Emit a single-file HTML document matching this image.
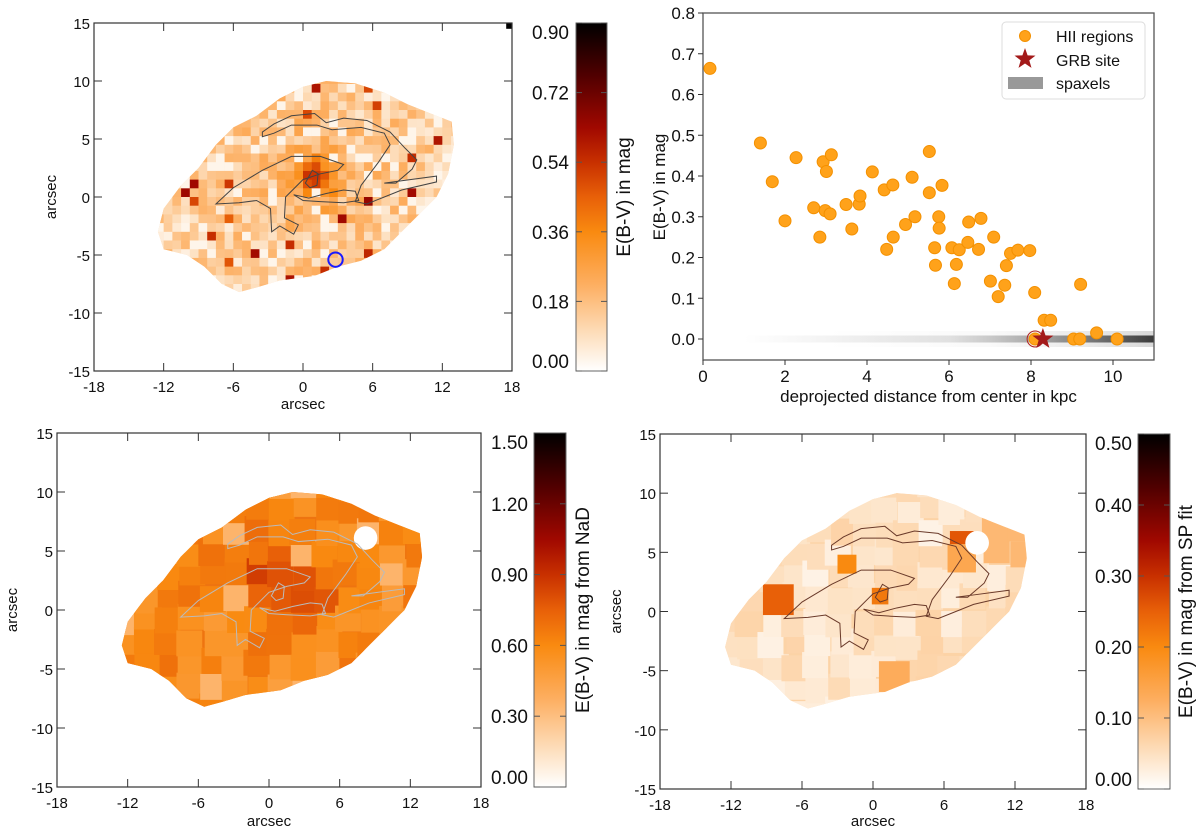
<!DOCTYPE html>
<html><head><meta charset="utf-8"><style>
html,body{margin:0;padding:0;background:#fff;}
svg{display:block;font-family:"Liberation Sans",Arial,sans-serif;}
</style></head><body>
<svg id="fig" width="1200" height="833" viewBox="0 0 1200 833" xmlns="http://www.w3.org/2000/svg">
<defs>
<linearGradient id="cm1" x1="0" y1="1" x2="0" y2="0">
<stop offset="0" stop-color="#ffffff"/><stop offset="0.1" stop-color="#fde0c0"/><stop offset="0.25" stop-color="#fdae60"/><stop offset="0.4" stop-color="#f98a10"/><stop offset="0.5" stop-color="#e86008"/><stop offset="0.6" stop-color="#c83000"/><stop offset="0.7" stop-color="#a00800"/><stop offset="0.85" stop-color="#500000"/><stop offset="1" stop-color="#000000"/>
</linearGradient>
<linearGradient id="spx" x1="0" y1="0" x2="1" y2="0">
<stop offset="0" stop-color="#666" stop-opacity="0"/><stop offset="0.5" stop-color="#777" stop-opacity="0.2"/><stop offset="0.75" stop-color="#555" stop-opacity="0.55"/><stop offset="1" stop-color="#333" stop-opacity="0.95"/>
</linearGradient>
</defs>
</svg>
<script>
// ---- scatter data (HII regions) ----
const hiiDist = [0.17,1.40,1.69,2.0,2.27,2.70,2.85,2.93,2.98,3.01,3.10,3.13,3.49,3.63,3.81,3.83,4.13,4.42,4.48,4.63,4.64,4.94,5.10,5.17,5.52,5.52,5.65,5.67,5.75,5.76,5.83,6.07,6.13,6.18,6.25,6.46,6.48,6.72,6.78,7.01,7.09,7.20,7.36,7.40,7.50,7.68,7.97,8.09,8.32,8.48,9.21,9.60,9.04,9.19,10.10,8.10];
const hiiEbv  = [0.664,0.481,0.386,0.29,0.445,0.322,0.25,0.435,0.315,0.411,0.307,0.452,0.33,0.27,0.331,0.351,0.41,0.366,0.22,0.378,0.25,0.281,0.397,0.30,0.46,0.359,0.224,0.181,0.30,0.272,0.377,0.224,0.136,0.183,0.219,0.237,0.287,0.22,0.296,0.142,0.25,0.104,0.132,0.18,0.21,0.218,0.217,0.114,0.046,0.046,0.134,0.015,0.0,0.0,0.0,0.0];
const grbDist = [8.29];
const grbEbv = [0.0];
const scXTicks = [0,2,4,6,8,10];
const scYTicks = [0.0,0.1,0.2,0.3,0.4,0.5,0.6,0.7,0.8];
const mapXTicks = [-18,-12,-6,0,6,12,18];
const mapYTicks = [-15,-10,-5,0,5,10,15];
const cb1Ticks = ["0.00","0.18","0.36","0.54","0.72","0.90"];
const cb2Ticks = ["0.00","0.30","0.60","0.90","1.20","1.50"];
const cb3Ticks = ["0.00","0.10","0.20","0.30","0.40","0.50"];

const NS='http://www.w3.org/2000/svg';
const svg=document.getElementById('fig');
function mk(tag,attrs,parent){const e=document.createElementNS(NS,tag);for(const k in attrs)e.setAttribute(k,attrs[k]);(parent||svg).appendChild(e);return e;}
function txt(s,attrs,parent){const e=mk('text',attrs,parent);e.textContent=s;return e;}
function hsh(i,j,k){let x=Math.sin(i*127.1+j*311.7+k*74.7)*43758.5453;return x-Math.floor(x);}
const stops=[[0,[255,255,255]],[0.1,[253,224,192]],[0.25,[253,174,96]],[0.4,[249,138,16]],[0.5,[232,96,8]],[0.6,[200,48,0]],[0.7,[160,8,0]],[0.85,[80,0,0]],[1,[0,0,0]]];
function cmap(t){t=Math.max(0,Math.min(1,t));for(let i=1;i<stops.length;i++){if(t<=stops[i][0]){const a=stops[i-1],b=stops[i];const f=(t-a[0])/(b[0]-a[0]);const c=a[1].map((v,k)=>Math.round(v+(b[1][k]-v)*f));return 'rgb('+c.join(',')+')';}}return '#000';}

const outline=[[-12.5,-3],[-12,-1],[-10.5,1],[-9,2.5],[-7.5,4.5],[-6,6],[-4,7],[-2,8.5],[0,9.5],[2,10],[4.5,9.8],[7,9],[9,8],[11,7.2],[12.8,6.5],[13,4.5],[12.5,2],[11.5,0],[10,-1.5],[8.5,-3],[7,-4.5],[5,-5.5],[3,-6],[1,-6.8],[-2,-7.2],[-4,-7.8],[-5.5,-8.2],[-7,-7.5],[-8.5,-6],[-10,-5],[-12,-4.5]];
const contA=[[-3.5,5.6],[-2.5,6.3],[-1,7.0],[1,7.2],[2,6.4],[3.5,6.8],[5.5,6.6],[7.5,5.6],[8.8,4.2],[9.8,3.2],[9.4,2.4],[8,1.2],[7,1.2],[8.5,1.4],[11.5,1.8],[11.5,1.3],[8.5,0.6],[6.5,-0.2],[5.5,-0.6],[4.5,-0.4],[5,1],[6.5,3],[7.5,4.5],[7,5.5],[5,6],[2.5,5.8],[1.2,6.2],[-1,6.2],[-2.5,5.5],[-3.5,5.2]];
const contB=[[-7.5,-0.6],[-6,0.8],[-3.5,2.3],[-1,3.5],[1.5,3.5],[3.5,2.8],[3,2.3],[1.5,2],[0,1.5],[-1.5,0],[-1.6,-1.8],[-0.4,-2.4],[-0.8,-3.2],[-2,-2.5],[-2.7,-3],[-2.8,-1],[-4,-0.3],[-5.5,-0.5]];
const contC=[[-0.8,0.2],[0.5,-0.1],[2,0.3],[3.5,0.6],[4.5,0.5],[4.8,-0.3],[3.5,-0.5],[1.5,-0.4],[0,-0.3]];
const contD=[[0.2,1.2],[0.8,2.3],[1.3,2],[1.2,1],[0.6,0.8]];

function pts(a){return a.map(p=>p[0]+','+p[1]).join(' ');}

function drawMap(P,kind,idx){
  const sx=(P.x1-P.x0)/36, sy=(P.y1-P.y0)/30;
  const cp=mk('clipPath',{id:'gal'+idx},svg.querySelector('defs'));
  mk('polygon',{points:pts(outline)},cp);
  const g=mk('g',{transform:`translate(${P.x0+18*sx},${P.y0+15*sy}) scale(${sx},${-sy})`});
  
  
  const gi=mk('g',{'clip-path':'url(#gal'+idx+')'},g);
  if(kind==='balmer'){
    mk('polygon',{points:pts(outline),fill:'#fcc896'},gi);
    const st=0.75;
    for(let i=-18;i<=18;i++)for(let j=-12;j<=14;j++){
      const a=i*st,b=j*st;const r2=(a-0.8)*(a-0.8)+(b-1.2)*(b-1.2);
      let v=0.13+0.35*Math.exp(-r2/3)+0.07*Math.exp(-r2/40)+(hsh(i,j,1)-0.5)*0.18;
      if(hsh(i,j,2)>0.965)v=0.45+hsh(i,j,3)*0.2;
      else if(hsh(i,j,11)>0.88)v=0.03;
      mk('rect',{x:a,y:b,width:st+0.02,height:st+0.02,fill:cmap(v/0.9)},gi);
    }
  } else if(kind==='nad'){
    mk('polygon',{points:pts(outline),fill:'#ee7410'},gi);
    const st=1.9;
    for(let i=-8;i<=8;i++)for(let j=-6;j<=7;j++){
      const a=i*st+(hsh(i,j,4)-0.5)*0.6,b=j*st+(hsh(i,j,5)-0.5)*0.6;const r2=(a-0.5)*(a-0.5)+(b-1)*(b-1);
      let v=0.58+0.32*Math.exp(-r2/12)+(hsh(i,j,6)-0.5)*0.22;
      if(hsh(i,j,7)>0.93)v=0.35;
      mk('rect',{x:a,y:b,width:st+0.3,height:st+0.3,fill:cmap(v/1.5)},gi);
    }
    mk('circle',{cx:8.2,cy:6.1,r:1.0,fill:'#fff'},gi);
  } else {
    mk('polygon',{points:pts(outline),fill:'#fcd3a6'},gi);
    const st=1.9;
    for(let i=-8;i<=8;i++)for(let j=-6;j<=7;j++){
      const a=i*st+(hsh(i,j,8)-0.5)*0.6,b=j*st+(hsh(i,j,9)-0.5)*0.6;
      let v=0.045+(hsh(i,j,10)-0.5)*0.05;
      if(a>8&&b>2)v=0.11;
      mk('rect',{x:a,y:b,width:st+0.3,height:st+0.3,fill:cmap(v/0.5)},gi);
    }
    const hot=[[-8,1,1.3,0.25],[7.5,5.8,1.0,0.26],[-2.2,4,0.8,0.2],[0.6,1.3,0.7,0.22],[1.8,-5.5,1.3,0.13],[7.5,4.5,1.2,0.14]];
    hot.forEach(h=>mk('rect',{x:h[0]-h[2],y:h[1]-h[2],width:2*h[2],height:2*h[2],fill:cmap(h[3]/0.5)},gi));
    mk('circle',{cx:8.8,cy:5.8,r:1.0,fill:'#fff'},gi);
  }
  const cc=kind==='nad'?'#bbb':(kind==='sp'?'#6a3a2a':'#444');
  [contA,contB,contC,contD].forEach((c,k)=>{
    const pl=mk('polygon',{points:pts(c),fill:'none',stroke:cc,'stroke-width':1,'vector-effect':'non-scaling-stroke'},g);
    
    
  });
  if(kind==='balmer'){
    const bc=mk('circle',{cx:2.8,cy:-5.4,r:0.62,fill:'none',stroke:'#1a1aff','stroke-width':2,'vector-effect':'non-scaling-stroke'},g);
    
    
    mk('rect',{x:17.5,y:14.5,width:0.5,height:0.5,fill:'#000'},g);
  }
  const fr=mk('rect',{x:P.x0,y:P.y0,width:P.x1-P.x0,height:P.y1-P.y0,fill:'none',stroke:'#333','stroke-width':1.2});
  
  
  mapXTicks.forEach(t=>{
    const X=P.x0+(t+18)*sx;
    mk('line',{x1:X,y1:P.y1,x2:X,y2:P.y1-8,stroke:'#333'});
    mk('line',{x1:X,y1:P.y0,x2:X,y2:P.y0+8,stroke:'#333'});
    const l=txt(String(t),{x:X,y:P.y1+21,'text-anchor':'middle','font-size':15,fill:'#111'});
    
    
  });
  mapYTicks.forEach(t=>{
    const Y=P.y0+(15-t)*sy;
    mk('line',{x1:P.x0,y1:Y,x2:P.x0+8,y2:Y,stroke:'#333'});
    mk('line',{x1:P.x1,y1:Y,x2:P.x1-8,y2:Y,stroke:'#333'});
    const l=txt(String(t),{x:P.x0-4,y:Y+6,'text-anchor':'end','font-size':15,fill:'#111'});
    
    
  });
  const xl=txt('arcsec',{x:(P.x0+P.x1)/2,y:P.xlY,'text-anchor':'middle','font-size':15,fill:'#111'});
  
  
  const yl=txt('arcsec',{x:0,y:0,transform:`translate(${P.ylX},${(P.y0+P.y1)/2}) rotate(-90)`,'text-anchor':'middle','font-size':15,fill:'#111'});
  
  
  const C=P.cb;
  const cbr=mk('rect',{x:C.x0,y:P.y0,width:C.x1-C.x0,height:P.y1-P.y0,fill:'url(#cm1)',stroke:'#666','stroke-width':1});
  
  
  C.ticks.forEach((s,k)=>{
    const Y=P.y1-(P.y1-P.y0)*k/(C.ticks.length-1);
    mk('line',{x1:C.x0,y1:Y,x2:C.x0+6,y2:Y,stroke:'#555'});
    mk('line',{x1:C.x1,y1:Y,x2:C.x1-6,y2:Y,stroke:'#555'});
    const ty=k===0?Y-3:(k===C.ticks.length-1?Y+16:Y+7);
    const l=txt(s,{x:C.lx,y:ty,'text-anchor':'end','font-size':19,fill:'#111'});
    
    
  });
  const cl=txt(C.label,{x:0,y:0,transform:`translate(${C.tx},${(P.y0+P.y1)/2}) rotate(-90)`,'text-anchor':'middle','font-size':19,fill:'#111'});
  
  
}

drawMap({x0:94,x1:512,y0:23,y1:371,xlY:409,ylX:56,cb:{x0:576,x1:607,lx:569,tx:630,ticks:cb1Ticks,label:'E(B-V) in mag'}},'balmer',1);
drawMap({x0:57,x1:481,y0:433,y1:787,xlY:826,ylX:17,cb:{x0:534,x1:566,lx:528,tx:589,ticks:cb2Ticks,label:'E(B-V) in mag from NaD'}},'nad',2);
drawMap({x0:660,x1:1086,y0:434,y1:789,xlY:826,ylX:621,cb:{x0:1138,x1:1170,lx:1132,tx:1192,ticks:cb3Ticks,label:'E(B-V) in mag from SP fit'}},'sp',3);

// ---- scatter panel ----
const S={x0:703,x1:1154,y0:13,y1:360};
const xS=d=>S.x0+d*(S.x1-S.x0)/11;
const yS=v=>339-v*(339-13)/0.8;
const band=mk('rect',{x:xS(1),y:yS(0)-3.5,width:xS(11)-xS(1),height:7,fill:'url(#spx)'});


mk('rect',{x:xS(3),y:yS(0)-8,width:xS(11)-xS(3),height:16,fill:'url(#spx)',opacity:0.2});
const sfr=mk('rect',{x:S.x0,y:S.y0,width:S.x1-S.x0,height:S.y1-S.y0,fill:'none',stroke:'#555','stroke-width':1.3});


scXTicks.forEach(t=>{
  const X=xS(t);
  mk('line',{x1:X,y1:S.y1,x2:X,y2:S.y1+5,stroke:'#333'});
  const l=txt(String(t),{x:X,y:S.y1+22,'text-anchor':'middle','font-size':17,fill:'#111'});
  
  
});
scYTicks.forEach(t=>{
  const Y=yS(t);
  mk('line',{x1:S.x0,y1:Y,x2:S.x0-5,y2:Y,stroke:'#333'});
  const l=txt(t.toFixed(1),{x:S.x0-8,y:Y+6,'text-anchor':'end','font-size':17,fill:'#111'});
  
  
});
const sxl=txt('deprojected distance from center in kpc',{x:(S.x0+S.x1)/2,y:402,'text-anchor':'middle','font-size':17,fill:'#111'});


const syl=txt('E(B-V) in mag',{x:0,y:0,transform:`translate(665,187) rotate(-90)`,'text-anchor':'middle','font-size':17,fill:'#111'});


hiiDist.forEach((d,i)=>{
  const c=mk('circle',{cx:xS(d),cy:yS(hiiEbv[i]),r:6,fill:'#ffa21a',stroke:'#f39000','stroke-width':1});
  
  
});
mk('circle',{cx:xS(8.10),cy:yS(0),r:8,fill:'none',stroke:'#b02020','stroke-width':1});
function star(cx,cy,R,r){let p=[];for(let k=0;k<10;k++){const a=-Math.PI/2+k*Math.PI/5;const rr=k%2?r:R;p.push((cx+rr*Math.cos(a)).toFixed(1)+','+(cy+rr*Math.sin(a)).toFixed(1));}return p.join(' ');}
grbDist.forEach((d,i)=>{
  const s=mk('polygon',{points:star(xS(d),yS(grbEbv[i]),11,4.5),fill:'#a31a1a'});
  
  
});
const lg=mk('g',{});


mk('rect',{x:1002,y:22,width:143,height:77,rx:4,fill:'#fff',stroke:'#ddd'},lg);
mk('circle',{cx:1025,cy:36,r:5.5,fill:'#ffa21a',stroke:'#f39000'},lg);
const e1=txt('HII regions',{x:1056,y:42,'font-size':16,fill:'#111'},lg);


mk('polygon',{points:star(1025,59,11,4.5),fill:'#a31a1a'},lg);
const e2=txt('GRB site',{x:1056,y:66,'font-size':16,fill:'#111'},lg);


mk('rect',{x:1008,y:77,width:35,height:12,fill:'#999'},lg);
const e3=txt('spaxels',{x:1056,y:89,'font-size':16,fill:'#111'},lg);


</script>
</body></html>
